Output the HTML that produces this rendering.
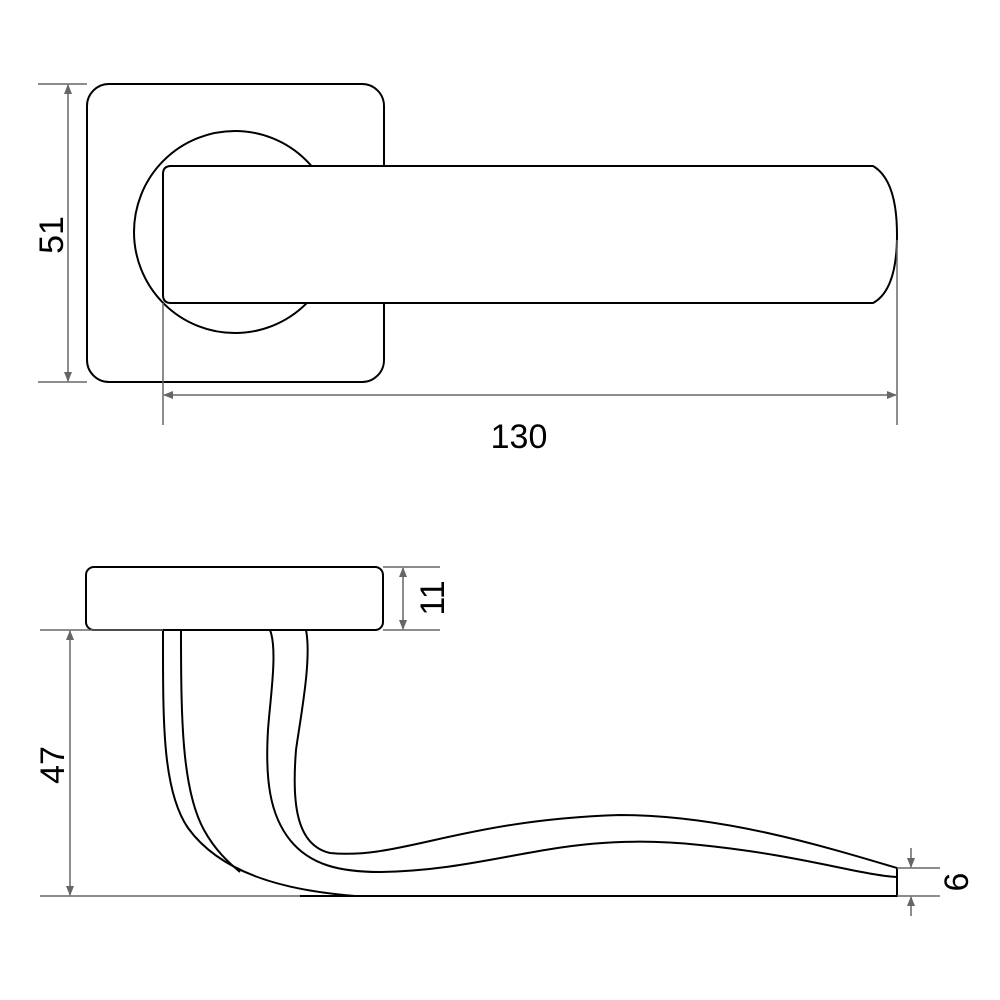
<!DOCTYPE html>
<html><head><style>body{margin:0;background:#fff}svg{display:block}</style></head><body>
<svg width="1000" height="1000" viewBox="0 0 1000 1000" xmlns="http://www.w3.org/2000/svg">
<defs>
<marker id="a" markerWidth="10" markerHeight="10" refX="9" refY="5" orient="auto" markerUnits="userSpaceOnUse"><path d="M0,1 L10,5 L0,9 Z" fill="#666"/></marker>
</defs>
<g fill="#fff" stroke="#000" stroke-width="2">
<rect x="87" y="84" width="297" height="298" rx="22"/>
<circle cx="235" cy="232" r="101"/>
<path d="M171,166 L873,166 Q897,180 897,235 Q897,290 873,303 L171,303 Q163,303 163,295 L163,174 Q163,166 171,166 Z"/>
<rect x="86" y="567" width="297" height="63" rx="8"/>
</g>
<g fill="none" stroke="#000" stroke-width="2">
<path d="M163,630 C163,720 162,790 188,828 C220,872 280,890 355,896"/>
<path d="M181,630 C181,720 182,790 204,830 C215,850 228,862 240,872"/>
<path d="M270,630 C278,650 270,700 268,730 C265,780 270,815 290,840 C310,865 340,872 380,872 C500,870 560,830 700,845 C800,855 860,875 897,877"/>
<path d="M306,630 C312,660 300,720 296,750 C292,800 295,845 330,853 C400,860 460,820 620,815 C720,815 820,845 897,868"/>
<path d="M300,896 L897,896 L897,868"/>
</g>
<g stroke="#666" stroke-width="1.5" fill="none">
<line x1="38" y1="84" x2="87" y2="84"/><line x1="38" y1="382" x2="87" y2="382"/>
<line x1="68" y1="235" x2="68" y2="85" marker-end="url(#a)"/><line x1="68" y1="235" x2="68" y2="381" marker-end="url(#a)"/>
<line x1="163" y1="303" x2="163" y2="425"/><line x1="897" y1="240" x2="897" y2="425"/>
<line x1="530" y1="395" x2="164" y2="395" marker-end="url(#a)"/><line x1="530" y1="395" x2="896" y2="395" marker-end="url(#a)"/>
<line x1="383" y1="567" x2="440" y2="567"/><line x1="383" y1="630" x2="440" y2="630"/>
<line x1="403" y1="598" x2="403" y2="568" marker-end="url(#a)"/><line x1="403" y1="598" x2="403" y2="629" marker-end="url(#a)"/>
<line x1="40" y1="630" x2="163" y2="630"/><line x1="40" y1="896" x2="300" y2="896"/>
<line x1="70" y1="765" x2="70" y2="631" marker-end="url(#a)"/><line x1="70" y1="765" x2="70" y2="895" marker-end="url(#a)"/>
<line x1="897" y1="868" x2="940" y2="868"/><line x1="897" y1="896" x2="940" y2="896"/>
<line x1="911" y1="848" x2="911" y2="867" marker-end="url(#a)"/><line x1="911" y1="916" x2="911" y2="897" marker-end="url(#a)"/>
</g>
<g font-family="Liberation Sans, sans-serif" font-size="34" fill="#000" text-anchor="middle">
<text x="519" y="448">130</text>
<text transform="translate(63,235) rotate(-90)">51</text>
<text transform="translate(444,598) rotate(-90)">11</text>
<text transform="translate(64,765) rotate(-90)">47</text>
<text transform="translate(968,882) rotate(-90)">6</text>
</g>
</svg>
</body></html>
